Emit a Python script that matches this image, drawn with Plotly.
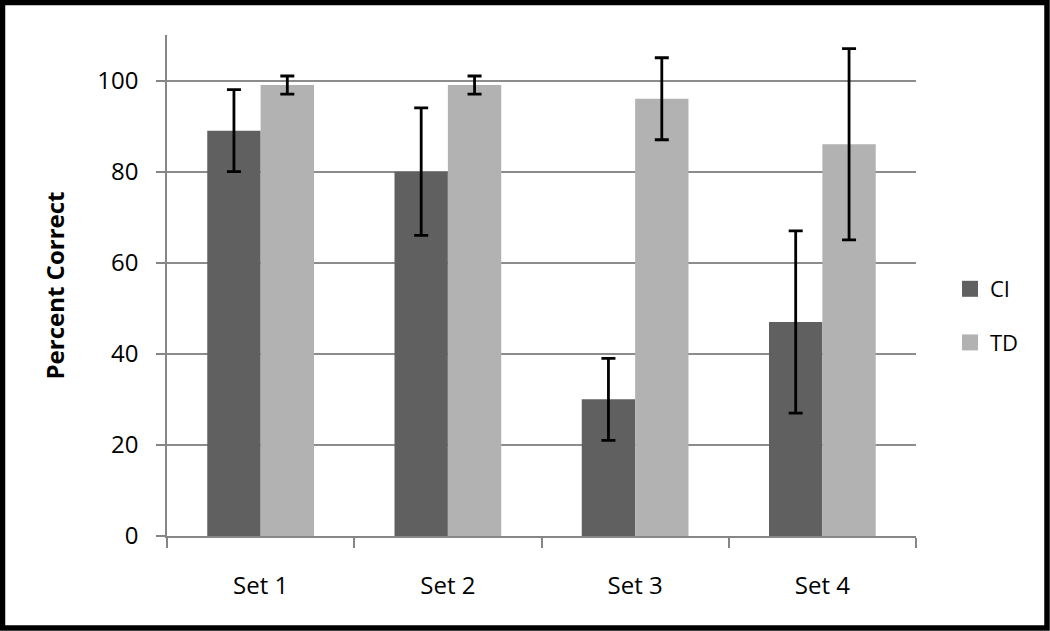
import plotly.graph_objects as go

categories = ["Set 1", "Set 2", "Set 3", "Set 4"]
ci_values = [89, 80, 30, 47]
ci_errors = [9, 14, 9, 20]
td_values = [99, 99, 96, 86]
td_errors = [2, 2, 9, 21]
y_ticks = [0, 20, 40, 60, 80, 100]

W, H = 1050, 631
ML, MR, MT, MB = 167, 134, 35, 95
PW, PH = W - ML - MR, H - MT - MB

font_family = "Open Sans, Noto Sans, sans-serif"
CI_COLOR = "#606060"
TD_COLOR = "#b2b2b2"

fig = go.Figure()
fig.add_trace(go.Bar(
    name="CI", x=categories, y=ci_values, showlegend=False,
    marker=dict(color=CI_COLOR, line=dict(width=0)),
    error_y=dict(type="data", array=ci_errors, visible=True,
                 color="black", thickness=2.8, width=7),
))
fig.add_trace(go.Bar(
    name="TD", x=categories, y=td_values, showlegend=False,
    marker=dict(color=TD_COLOR, line=dict(width=0)),
    error_y=dict(type="data", array=td_errors, visible=True,
                 color="black", thickness=2.8, width=7),
))
# legend entries with larger square swatches
for nm, col in (("CI", CI_COLOR), ("TD", TD_COLOR)):
    fig.add_trace(go.Scatter(
        name=nm, x=[None], y=[None], mode="markers", legendgroup=nm,
        marker=dict(symbol="square", size=16, color=col, line=dict(width=0)),
    ))

fig.update_layout(
    width=W, height=H,
    margin=dict(l=ML, r=MR, t=MT, b=MB, pad=0),
    paper_bgcolor="white", plot_bgcolor="white",
    barmode="group", bargap=0.43, bargroupgap=0,
    font=dict(family=font_family, size=24, color="black"),
    legend=dict(
        x=(950 - ML) / PW, y=(536 - 316) / PH,
        xanchor="left", yanchor="middle",
        font=dict(size=22), itemwidth=30, tracegroupgap=22,
        bgcolor="rgba(0,0,0,0)", itemsizing="trace",
    ),
    xaxis=dict(
        showline=True, linecolor="#868686", linewidth=1.5,
        ticks="outside", tickson="boundaries", ticklen=10,
        tickcolor="#868686", tickwidth=1.5,
        showgrid=False, tickfont=dict(size=24),
        ticklabelstandoff=27,
    ),
    yaxis=dict(
        range=[0, 110], tickvals=y_ticks,
        showline=True, linecolor="#868686", linewidth=1.5,
        ticks="outside", ticklen=9, tickcolor="#868686", tickwidth=1.5,
        showgrid=True, gridcolor="#8c8c8c", gridwidth=1.5,
        zeroline=False, tickfont=dict(size=24),
        ticklabelstandoff=13,
        title=dict(text="<b>Percent Correct</b>", font=dict(size=24), standoff=26),
    ),
    shapes=[dict(
        type="rect", xref="paper", yref="paper",
        x0=(2.5 - ML) / PW, x1=(W - 3 - ML) / PW,
        y0=-(MB - 3) / PH, y1=1 + (MT - 2.5) / PH,
        line=dict(color="black", width=5.5), fillcolor="rgba(0,0,0,0)",
        layer="above",
    )],
)

fig.write_html("out.html", config={"displayModeBar": False},
               post_script="document.body.style.margin='0';")
